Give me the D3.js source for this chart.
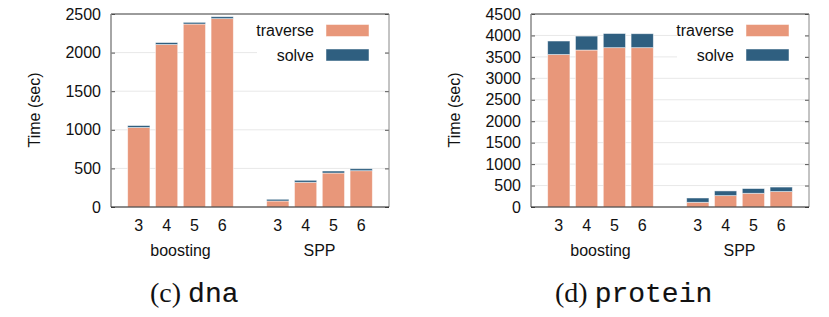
<!DOCTYPE html>
<html>
<head>
<meta charset="utf-8">
<script src="https://cdnjs.cloudflare.com/ajax/libs/d3/7.8.5/d3.min.js"></script>
<style>
  body { margin: 0; background: #fff; }
  svg { display: block; }
  .tick text { font-family: "Liberation Sans", Arial, sans-serif; font-size: 16px; fill: #111; }
  .lbl { font-family: "Liberation Sans", Arial, sans-serif; font-size: 16px; fill: #111; }
  .cap-serif { font-family: "Liberation Serif", serif; font-size: 28px; }
  .cap-mono { font-family: "Liberation Mono", "Courier New", monospace; font-size: 28px; stroke: #111; stroke-width: 0.15px; }
</style>
</head>
<body>
<div class="container"></div>
<script>
// data
const categories = ["3", "4", "5", "6"]
const groups = ["boosting", "SPP"]
const seriesNames = ["traverse", "solve"]

const dnaTraverse = [1030, 2105, 2370, 2440, 78, 320, 440, 470]
const dnaSolve = [25, 25, 22, 25, 22, 26, 26, 26]
const dnaTicks = [0, 500, 1000, 1500, 2000, 2500]

const proteinTraverse = [3555, 3660, 3715, 3715, 110, 265, 320, 360]
const proteinSolve = [315, 325, 330, 325, 100, 110, 110, 105]
const proteinTicks = [0, 500, 1000, 1500, 2000, 2500, 3000, 3500, 4000, 4500]

const colors = { traverse: "#e8977a", solve: "#2f5f80" }

const width = 829
const height = 317

const svg = d3.select(".container").append("svg")
    .attr("width", width)
    .attr("height", height)

svg.append("rect").attr("width", width).attr("height", height).attr("fill", "#fff")

drawPanel({ left: 111, traverse: dnaTraverse, solve: dnaSolve, ticks: dnaTicks, caption: ["(c)", "dna"], capX: 150 })
drawPanel({ left: 531, traverse: proteinTraverse, solve: proteinSolve, ticks: proteinTicks, caption: ["(d)", "protein"], capX: 555 })

function drawPanel(p) {
    const top = 14, bottom = 207, w = 278

    const x = d3.scaleLinear().domain([0, 10]).range([p.left, p.left + w])
    const y = d3.scaleLinear().domain([0, d3.max(p.ticks)]).range([bottom, top])

    const rows = []
    groups.forEach((g, gi) => {
        categories.forEach((c, ci) => {
            const i = gi * categories.length + ci
            rows.push({ pos: gi * 5 + ci + 1, cat: c, traverse: p.traverse[i], solve: p.solve[i] })
        })
    })

    const g = svg.append("g")

    // grid
    g.selectAll(".grid")
        .data(p.ticks)
        .enter()
        .append("line")
        .attr("x1", p.left).attr("x2", p.left + w)
        .attr("y1", d => y(d)).attr("y2", d => y(d))
        .attr("stroke", "#e8e8e8")
        .attr("stroke-width", 1)

    // bars
    const stack = d3.stack().keys(seriesNames)(rows)
    const bw = x(0.8) - x(0)
    g.selectAll(".layer")
        .data(stack)
        .enter()
        .append("g")
        .attr("fill", d => colors[d.key])
        .selectAll("rect")
        .data(d => d)
        .enter()
        .append("rect")
        .attr("x", d => x(d.data.pos) - bw / 2)
        .attr("y", d => y(d[1]))
        .attr("width", bw)
        .attr("height", d => y(d[0]) - y(d[1]))
        .attr("stroke", "#fff")
        .attr("stroke-opacity", 0.6)
        .attr("stroke-width", 0.8)

    // legend box
    const lg = g.append("g")
    lg.append("rect")
        .attr("x", p.left + 146).attr("y", 18)
        .attr("width", 128).attr("height", 48)
        .attr("fill", "#fff")
    seriesNames.forEach((s, i) => {
        const cy = 30.5 + i * 24.5
        lg.append("text")
            .attr("class", "lbl")
            .attr("x", p.left + 203).attr("y", cy)
            .attr("dy", "0.35em")
            .attr("text-anchor", "end")
            .text(s)
        lg.append("rect")
            .attr("x", p.left + 215).attr("y", cy - 6)
            .attr("width", 43).attr("height", 12)
            .attr("fill", colors[s])
            .attr("stroke", "#fff").attr("stroke-opacity", 0.6).attr("stroke-width", 0.8)
    })

    // axes
    const ya = g.append("g")
        .attr("transform", `translate(${p.left},0)`)
        .call(d3.axisLeft(y).tickValues(p.ticks).tickSize(-4).tickPadding(10).tickFormat(d3.format("d")))
    ya.select(".domain").remove()
    ya.selectAll(".tick line").attr("stroke", "#555")

    const yr = g.append("g")
        .attr("transform", `translate(${p.left + w},0)`)
        .call(d3.axisRight(y).tickValues(p.ticks).tickSize(-4).tickFormat(""))
    yr.select(".domain").remove()
    yr.selectAll(".tick line").attr("stroke", "#555")

    // frame
    g.append("line").attr("x1", p.left).attr("x2", p.left + w).attr("y1", top).attr("y2", top).attr("stroke", "#444")
    g.append("line").attr("x1", p.left + w).attr("x2", p.left + w).attr("y1", top).attr("y2", bottom).attr("stroke", "#888")
    g.append("line").attr("x1", p.left).attr("x2", p.left).attr("y1", top).attr("y2", bottom).attr("stroke", "#888").attr("stroke-width", 1.5)
    g.append("line").attr("x1", p.left).attr("x2", p.left + w).attr("y1", bottom).attr("y2", bottom).attr("stroke", "#222")

    // category labels
    g.selectAll(".cat")
        .data(rows)
        .enter()
        .append("text")
        .attr("class", "lbl")
        .attr("x", d => x(d.pos))
        .attr("y", 225)
        .attr("dy", "0.35em")
        .attr("text-anchor", "middle")
        .text(d => d.cat)

    g.selectAll(".grp")
        .data(groups)
        .enter()
        .append("text")
        .attr("class", "lbl")
        .attr("x", (d, i) => x(i * 5 + 2.5))
        .attr("y", 250)
        .attr("dy", "0.35em")
        .attr("text-anchor", "middle")
        .text(d => d)

    // y label
    g.append("text")
        .attr("class", "lbl")
        .attr("transform", `translate(${p.left - 77},110) rotate(-90)`)
        .attr("dy", "0.35em")
        .attr("text-anchor", "middle")
        .text("Time (sec)")

    // caption
    const cap = g.append("text")
        .attr("x", p.capX)
        .attr("y", 302)
        .attr("fill", "#111")
    cap.append("tspan")
        .attr("class", "cap-serif")
        .text(p.caption[0])
    cap.append("tspan")
        .attr("class", "cap-mono")
        .attr("dx", 7)
        .text(p.caption[1])
}
</script>
</body>
</html>
